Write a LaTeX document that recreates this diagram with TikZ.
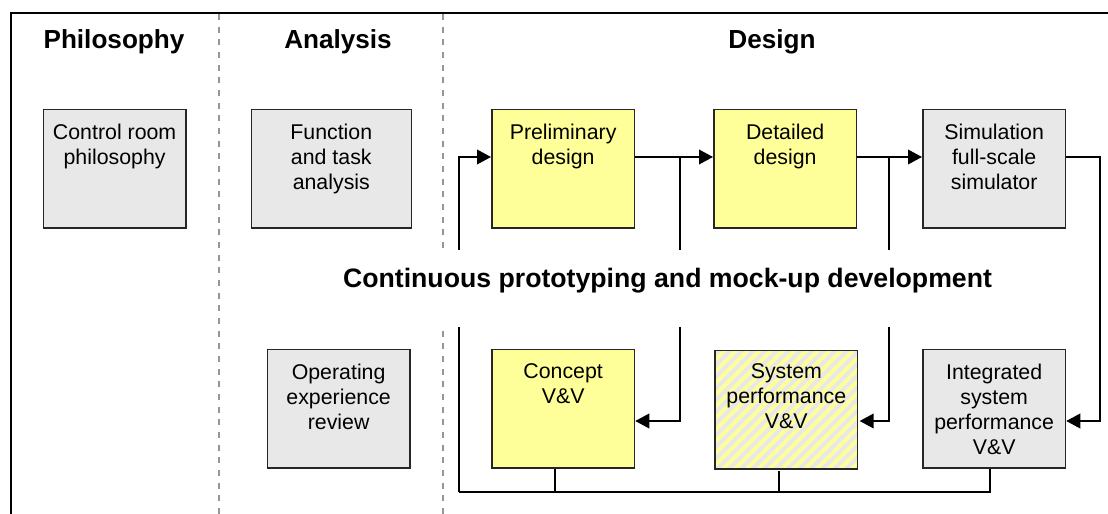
\documentclass[tikz,border=0pt]{standalone}
\usepackage{fontspec}
\setmainfont{Liberation Sans}
\usetikzlibrary{arrows.meta,patterns.meta}

\definecolor{boxgray}{RGB}{232,232,232}
\definecolor{boxyellow}{RGB}{255,255,153}
\definecolor{columngray}{RGB}{150,150,150}

\tikzset{
	stage/.style={draw=black!85, line width=1.2pt, anchor=north west, inner sep=0pt,
		minimum width=107pt, minimum height=89pt},
	graybox/.style={stage, fill=boxgray},
	yellowbox/.style={stage, fill=boxyellow},
	hatchbox/.style={stage, preaction={fill=boxgray},
		pattern={Lines[angle=45,distance=6.2pt,line width=3pt]}, pattern color=boxyellow},
	boxtext/.style={anchor=north, align=center, inner sep=0pt, yshift=-11.5pt,
		font=\fontsize{16}{18.75}\selectfont},
	heading/.style={anchor=base, font=\fontsize{19.6}{22}\selectfont\bfseries},
	flow/.style={line width=1.2pt, -{Triangle[length=10.5pt,width=11pt]}},
	link/.style={line width=1.2pt},
	column/.style={columngray, line width=1.1pt, dash pattern=on 4.5pt off 5pt}
}

\begin{document}
\begin{tikzpicture}[x=0.75pt, y=-0.75pt]
	\useasboundingbox (0,0) rectangle (1108,514);

	% frame and columns
	\draw[line width=1.5pt] (10.5,514) -- (10.5,12.5) -- (1108,12.5);
	\foreach \x in {219,443}
		\draw[column] (\x,14) -- (\x,514);

	\node[heading] (philo) at (114,48) {Philosophy};
	\node[heading] (anal) at (338,48) {Analysis};
	\node[heading] (design) at (772,48) {Design};

	% boxes
	\node[graybox, label={[boxtext]90:Control room\\philosophy}] (room) at (42.5,108.5) {};
	\node[graybox, minimum width=120pt, label={[boxtext]90:Function\\and task\\analysis}] (task) at (250.5,108.5) {};
	\node[graybox, label={[boxtext]90:Operating\\experience\\review}] (oper) at (266.5,348.5) {};

	\node[yellowbox, label={[boxtext]90:Preliminary\\design}] (prelim) at (491,108.5) {};
	\node[yellowbox, label={[boxtext]90:Detailed\\design}] (detail) at (713,108.5) {};
	\node[graybox, label={[boxtext]90:Simulation\\full-scale\\simulator}] (sim) at (922,108.5) {};

	\node[yellowbox, label={[boxtext]90:Concept\\V\&V}] (concept) at (491,348.5) {};
	\node[hatchbox, label={[boxtext]90:System\\performance\\V\&V}] (sysperf) at (713,348.5) {};
	\node[graybox, label={[boxtext]90:Integrated\\system\\performance\\V\&V}] (integ) at (922,348.5) {};

	% connectors
	\coordinate (upper) at (0,157);
	\coordinate (lower) at (0,421);
	\coordinate (rail) at (0,492);
	\coordinate (feed) at (459,0);
	\coordinate (fork1) at (680,0);
	\coordinate (fork2) at (889,0);
	\coordinate (back) at (1100,0);

	\draw[flow] (feed |- rail) -- (feed |- upper) -- (prelim.west |- upper);
	\draw[flow] (prelim.east |- upper) -- (detail.west |- upper);
	\draw[flow] (fork1 |- upper) -- (fork1 |- lower) -- (concept.east |- lower);
	\draw[flow] (detail.east |- upper) -- (sim.west |- upper);
	\draw[flow] (fork2 |- upper) -- (fork2 |- lower) -- (sysperf.east |- lower);
	\draw[flow] (sim.east |- upper) -- (back |- upper) -- (back |- lower) -- (integ.east |- lower);

	\coordinate (drop1) at (555,0);
	\coordinate (drop2) at (779,0);
	\coordinate (drop3) at (990,0);
	\draw[link] (feed |- rail) -- (drop3 |- rail) -- (drop3 |- integ.south);
	\draw[link] (drop1 |- concept.south) -- (drop1 |- rail);
	\draw[link] (drop2 |- sysperf.south) -- (drop2 |- rail);

	\node[fill=white, anchor=base, inner xsep=3pt, inner ysep=0pt, text height=27.75pt, text depth=30pt,
		font=\fontsize{20}{24}\selectfont\bfseries] (proto) at (667.5,287)
		{Continuous prototyping and mock-up development};
\end{tikzpicture}
\end{document}
